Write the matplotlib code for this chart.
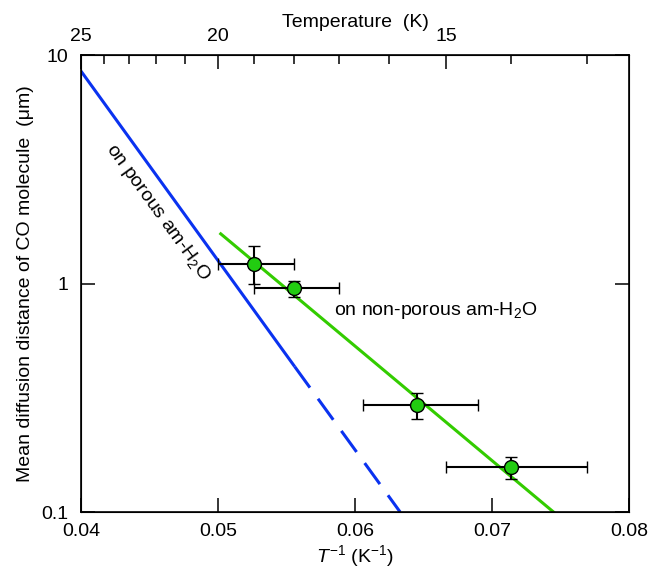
import matplotlib
matplotlib.use("Agg")
import matplotlib.pyplot as plt
import numpy as np

plt.rcParams['font.family'] = ['Liberation Sans', 'DejaVu Sans']
plt.rcParams['mathtext.fontset'] = 'custom'
plt.rcParams['mathtext.rm'] = 'Liberation Sans'
plt.rcParams['mathtext.it'] = 'Liberation Sans:italic'

# measured points (temperature in K, +/- 1 K)
temps = [19.0, 18.0, 15.5, 14.0]
temp_err = [1.0, 1.0, 1.0, 1.0]
dist = [1.22, 0.955, 0.294, 0.157]
dist_lo = [1.00, 0.873, 0.255, 0.139]
dist_hi = [1.46, 1.03, 0.332, 0.174]

# fitted lines (x = 1/T)
porous_x = [0.0400, 0.0556]
porous_y = [8.5, 0.433]
porous_ext_x = [0.0556, 0.0633]
porous_ext_y = [0.433, 0.1]
nonporous_x = [0.0502, 0.0745]
nonporous_y = [1.65, 0.1]

top_major = [25, 20, 15]
top_minor = [24, 23, 22, 21, 19, 18, 17, 16, 14, 13]

BLUE = '#0a32f0'
GREEN = '#33cc00'
FS = 14

fig = plt.figure(figsize=(6.62, 5.76), dpi=100)
ax = fig.add_axes([0.1224, 0.111, 0.8276, 0.7935])

ax.plot(porous_x, porous_y, color=BLUE, lw=2.2, solid_capstyle='butt')
ax.plot(porous_ext_x, porous_ext_y, color=BLUE, lw=2.2, dashes=(8.5, 4.5))
ax.plot(nonporous_x, nonporous_y, color=GREEN, lw=2.2)

t = np.array(temps)
te = np.array(temp_err)
x = 1.0 / t
xerr = [x - 1.0 / (t + te), 1.0 / (t - te) - x]
y = np.array(dist)
yerr = [y - np.array(dist_lo), np.array(dist_hi) - y]
ax.errorbar(x, y, xerr=xerr, yerr=yerr, fmt='o', ms=10, mfc='#22cc11',
            mec='black', mew=1.0, ecolor='black', elinewidth=1.5,
            capsize=4, capthick=1.5, zorder=5)

ax.set_yscale('log')
ax.set_xlim(0.04, 0.08)
ax.set_ylim(0.1, 10)
ax.set_xticks([0.04, 0.05, 0.06, 0.07, 0.08])
ax.set_xticklabels(['0.04', '0.05', '0.06', '0.07', '0.08'])
ax.set_yticks([0.1, 1, 10])
ax.set_yticklabels(['0.1', '1', '10'])
ax.yaxis.set_minor_locator(matplotlib.ticker.NullLocator())
ax.tick_params(axis='both', which='major', direction='in', length=10,
               width=1.1, labelsize=FS, right=True)
ax.tick_params(axis='x', pad=8)
ax.tick_params(axis='y', pad=9)
for s in ax.spines.values():
    s.set_linewidth(1.2)

ax.set_xlabel(r'$T^{-1}$ (K$^{-1}$)', fontsize=FS, labelpad=2)
ax.set_ylabel('Mean diffusion distance of CO molecule  (\u03bcm)',
              fontsize=FS, labelpad=5)

top = ax.twiny()
top.set_xlim(ax.get_xlim())
top.set_xticks([1.0 / v for v in top_major])
top.set_xticklabels([str(v) for v in top_major])
top.set_xticks([1.0 / v for v in top_minor], minor=True)
top.tick_params(which='major', direction='in', length=10, width=1.1,
                labelsize=FS, pad=7)
top.tick_params(which='minor', direction='in', length=6.5, width=1.1)
top.set_xlabel('Temperature  (K)', fontsize=FS, labelpad=1)

ax.text(0.04562, 2.06, 'on porous am-H$_2$O', rotation=-54,
        ha='center', va='center', fontsize=FS)
ax.text(0.05847, 0.76, 'on non-porous am-H$_2$O', ha='left',
        va='center', fontsize=FS)

fig.savefig('out.png', dpi=100)
